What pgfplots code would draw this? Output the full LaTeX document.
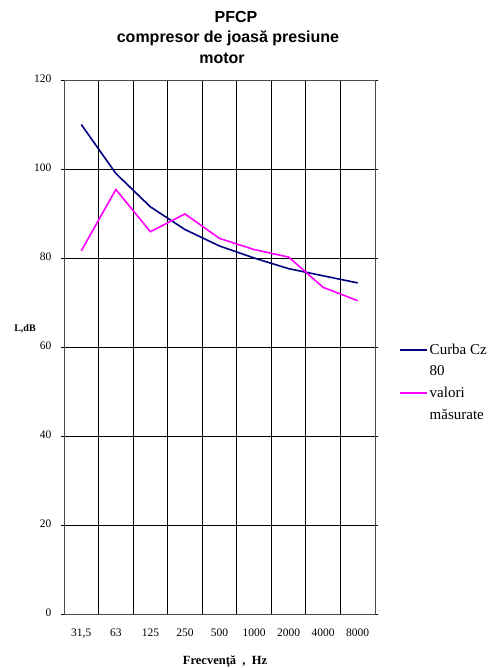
\documentclass[border=0pt]{standalone}
\usepackage{fontspec}
\setmainfont{Liberation Serif}
\newfontfamily\titlefont{Liberation Sans}
\usepackage{pgfplots}
\usepackage{pgfplotstable}
\pgfplotsset{compat=1.18}
\definecolor{cznavy}{RGB}{0,0,128}
\definecolor{measmag}{RGB}{255,0,255}

% octave bands: 31,5 ... 8000 Hz, plotted at 0..8
\pgfplotstableread{
idx cz   meas
0   110  81.6
1   99   95.4
2   91.5 85.9
3   86.4 89.9
4   82.7 84.4
5   80.0 81.9
6   77.6 80.2
7   76.0 73.4
8   74.4 70.4
}\levels

% extra depth after the last line of a legend entry
\newcommand{\entryend}{\rule[-8pt]{0pt}{8pt}}

\begin{document}
\begin{tikzpicture}[x=1pt,y=1pt]
\path[use as bounding box] (0,0) rectangle (498,668);
\begin{axis}[
  at={(64pt,54pt)}, anchor=south west,
  width=311pt, height=534pt, scale only axis,
  xmin=-0.5, xmax=8.5, ymin=0, ymax=120,
  xtick={0,...,8},
  xticklabels={{31,5},63,125,250,500,1000,2000,4000,8000},
  minor xtick={0.5,1.5,...,7.5},
  xminorgrids,
  ytick={0,20,...,120},
  ymajorgrids,
  tick align=outside,
  xtick style={draw=none},
  minor tick length=0pt,
  ytick style={black, line width=0.8pt},
  major tick length=3pt,
  grid style={black, line width=0.8pt},
  minor grid style={black, line width=0.8pt},
  axis line style={black!70, line width=0.8pt},
  /pgf/number format/assume math mode=true,
  ticklabel style={font=\fontsize{11.5}{13}\selectfont},
  yticklabel style={xshift=-6pt, yshift=1.5pt},
  xticklabel style={yshift=-8pt},
  legend style={draw=none, fill=none, at={(1.077,0.510)}, anchor=north west,
    font=\fontsize{15}{19}\selectfont, row sep=5.9pt, inner sep=0pt},
  legend cell align=left,
  legend image code/.code={\draw[#1, line width=1.6pt] (0pt,0pt) -- (27pt,0pt);},
]
\addplot[cznavy, line width=1.6pt] table[x=idx, y=cz] {\levels};
\addlegendentry{Curba Cz}
\addlegendimage{empty legend}
\addlegendentry{80\entryend}
\addplot[measmag, line width=1.6pt] table[x=idx, y=meas] {\levels};
\addlegendentry{valori}
\addlegendimage{empty legend}
\addlegendentry{măsurate}
\end{axis}
\begin{scope}[font=\titlefont\bfseries\fontsize{16}{19}\selectfont]
\node[anchor=base, inner sep=0] at (236,645) {PFCP};
\node[anchor=base, inner sep=0] at (228,625) {compresor de joasă presiune};
\node[anchor=base, inner sep=0] at (222,604) {motor};
\end{scope}
\node[anchor=center, inner sep=0, font=\bfseries\fontsize{10}{12}\selectfont] at (25,339) {L,dB};
\node[anchor=base, inner sep=0, font=\bfseries\fontsize{12.5}{15}\selectfont] at (225,4) {Frecvenţă~~,~~Hz};
\end{tikzpicture}
\end{document}
